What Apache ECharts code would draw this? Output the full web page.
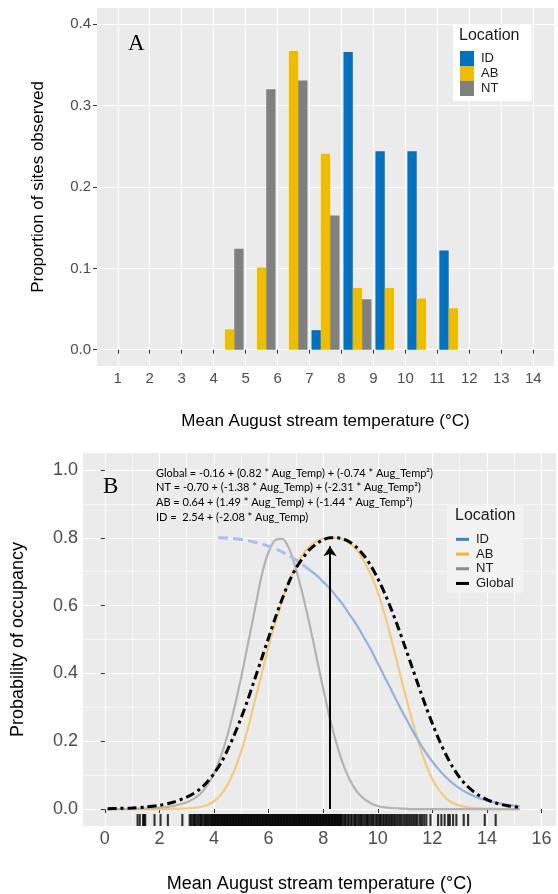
<!DOCTYPE html>
<html><head><meta charset="utf-8">
<script src="https://cdn.jsdelivr.net/npm/echarts@6/dist/echarts.min.js"></script>
<style>html,body{margin:0;padding:0;background:#fff}#c{width:558px;height:894px}</style>
</head><body><div id="c"></div>
<script>
// ---------- Panel A data ----------
const binCenters = [4.5, 5.5, 6.5, 7.5, 8.5, 9.5, 10.5, 11.5];
const idProp = [null, null, null, 0.024, 0.366, 0.244, 0.244, 0.122];
const abProp = [0.025, 0.101, 0.367, 0.241, 0.076, 0.076, 0.063, 0.051];
const ntProp = [0.124, 0.320, 0.331, 0.165, 0.062, null, null, null];
const aXTicks = [1,2,3,4,5,6,7,8,9,10,11,12,13,14];
const aYTicks = [0, 0.1, 0.2, 0.3, 0.4];

// ---------- Panel B data ----------
const bTemp = [0.1,0.5,1,1.5,2,2.5,3,3.25,3.5,3.75,4,4.25,4.5,4.75,5,5.25,5.5,5.75,6,6.25,6.5,6.75,7,7.25,7.5,7.75,8,8.25,8.5,8.75,9,9.25,9.5,9.75,10,10.25,10.5,10.75,11,11.25,11.5,11.75,12,12.25,12.5,12.75,13,13.25,13.5,13.75,14,14.25,14.5,14.75,15,15.2];
const globalProb = [0.001,0.002,0.003,0.006,0.011,0.020,0.035,0.046,0.060,0.080,0.105,0.135,0.175,0.220,0.270,0.325,0.385,0.445,0.505,0.565,0.620,0.670,0.710,0.740,0.765,0.782,0.794,0.800,0.800,0.796,0.786,0.770,0.747,0.717,0.680,0.637,0.588,0.535,0.478,0.420,0.362,0.305,0.252,0.203,0.160,0.123,0.093,0.070,0.052,0.038,0.028,0.020,0.014,0.010,0.007,0.005];
const abProb = [0,0,0,0,0,0.001,0.002,0.003,0.006,0.012,0.023,0.042,0.072,0.115,0.170,0.240,0.320,0.400,0.480,0.550,0.615,0.670,0.715,0.750,0.775,0.790,0.798,0.800,0.800,0.795,0.782,0.762,0.730,0.690,0.640,0.575,0.500,0.420,0.340,0.265,0.195,0.135,0.088,0.055,0.032,0.018,0.010,0.006,0.003,0.002,0.001,0.001,0,0,0,0];
const ntProb = [0,0,0.001,0.002,0.004,0.009,0.020,0.030,0.045,0.070,0.105,0.155,0.220,0.300,0.390,0.490,0.590,0.690,0.758,0.794,0.797,0.768,0.708,0.632,0.545,0.450,0.355,0.265,0.190,0.128,0.082,0.050,0.030,0.017,0.009,0.005,0.003,0.002,0.001,0,0,0,0,0,0,0,0,0,0,0,0,0,0,0,0,0];
const idDashTemp = [4.15, 4.5, 5, 5.5, 6, 6.5, 7, 7.5];
const idDashProb = [0.800, 0.799, 0.795, 0.787, 0.775, 0.758, 0.735, 0.705];
const idSolidTemp = [7.5,7.75,8,8.25,8.5,8.75,9,9.25,9.5,9.75,10,10.25,10.5,10.75,11,11.25,11.5,11.75,12,12.25,12.5,12.75,13,13.25,13.5,13.75,14,14.25,14.5,14.75,15,15.2];
const idSolidProb = [0.705,0.690,0.670,0.650,0.625,0.600,0.570,0.540,0.505,0.470,0.430,0.390,0.350,0.310,0.272,0.235,0.200,0.168,0.140,0.115,0.094,0.076,0.061,0.049,0.039,0.031,0.025,0.020,0.016,0.012,0.010,0.008];
const rugTemp = [1.20,1.28,1.40,1.44,1.48,1.82,2.04,2.31,2.84,
3.11,3.16,3.22,3.27,3.31,3.36,3.42,3.47,3.52,3.55,3.61,3.66,3.70,3.74,3.79,3.83,3.88,3.92,3.95,3.99,
4.03,4.06,4.10,4.14,4.17,4.21,4.25,4.28,4.32,4.36,4.39,4.43,4.47,4.50,4.54,4.58,4.61,4.65,4.69,4.72,4.76,4.80,4.83,4.87,4.91,4.94,4.98,
5.02,5.05,5.09,5.13,5.16,5.20,5.24,5.27,5.31,5.35,5.38,5.42,5.46,5.49,5.53,5.57,5.60,5.64,5.68,5.71,5.75,5.79,5.82,5.86,5.90,5.93,5.97,
6.01,6.04,6.08,6.12,6.15,6.19,6.23,6.26,6.30,6.34,6.37,6.41,6.45,6.48,6.52,6.56,6.59,6.63,6.67,6.70,6.74,6.78,6.81,6.85,6.89,6.92,6.96,
7.00,7.03,7.07,7.11,7.14,7.18,7.22,7.25,7.29,7.33,7.36,7.40,7.44,7.47,7.51,7.55,7.58,7.62,7.66,7.69,7.73,7.77,7.80,7.84,7.88,7.91,7.95,7.99,
8.02,8.06,8.10,8.13,8.17,8.21,8.24,8.28,8.32,8.35,8.39,8.43,8.46,8.50,8.54,8.57,8.61,8.65,8.68,
8.74,8.79,8.83,8.90,8.94,9.01,9.05,9.12,9.17,9.21,9.28,9.33,9.38,9.42,9.49,9.55,9.60,9.64,9.70,9.76,9.81,9.85,9.92,9.97,
10.03,10.08,10.12,10.19,10.24,10.30,10.35,10.41,10.47,10.52,10.58,10.63,10.70,10.76,10.82,10.88,10.95,11.01,11.07,11.14,11.20,11.26,11.33,11.40,11.46,11.55,11.62,11.70,11.78,
11.93,12.21,12.33,12.45,12.58,12.64,12.76,12.88,13.15,13.31,13.92,14.32];
const arrowTemp = 8.25;
const arrowTop = 0.775;
const bXTicks = [0,2,4,6,8,10,12,14,16];
const bXMinor = [1,3,5,7,9,11,13,15];
const bYTicks = [0, 0.2, 0.4, 0.6, 0.8, 1.0];
const bYMinor = [0.1, 0.3, 0.5, 0.7, 0.9];
const equations = [
  'Global = -0.16 + (0.82 * Aug_Temp) + (-0.74 * Aug_Temp\u00B2)',
  'NT = -0.70 + (-1.38 * Aug_Temp) + (-2.31 * Aug_Temp\u00B2)',
  'AB = 0.64 + (1.49 * Aug_Temp) + (-1.44 * Aug_Temp\u00B2)',
  'ID =  2.54 + (-2.08 * Aug_Temp)'
];
const xTitle = 'Mean August stream temperature (\u00B0C)';

// ---------- chart ----------
const FONT = '"Liberation Sans", Arial, sans-serif';
const C = {ID: '#0070c0', AB: '#efbd00', NT: '#808080'};
const chart = echarts.init(document.getElementById('c'), null, {renderer: 'canvas'});

function majorSplit(){ return {show: true, lineStyle: {color: '#ffffff', width: 1.1}}; }
function minorAxis(grid, min, max, vals){
  return {gridIndex: grid, type: 'value', min: min, max: max, show: true,
    axisLine: {show: false}, axisLabel: {show: false},
    axisTick: {show: false, customValues: vals},
    splitLine: {show: true, lineStyle: {color: '#ffffff', width: 0.6}}};
}

const option = {
  animation: false,
  backgroundColor: '#ffffff',
  textStyle: {fontFamily: FONT},
  grid: [
    {left: 97, top: 8, width: 457, height: 358, show: true, backgroundColor: '#ebebeb', borderWidth: 0},
    {left: 83, top: 453, width: 473, height: 374, show: true, backgroundColor: '#ebebeb', borderWidth: 0}
  ],
  xAxis: [
    {gridIndex: 0, type: 'value', min: 0.35, max: 14.65,
      axisLine: {show: false},
      axisTick: {show: true, length: 4, lineStyle: {color: '#333333'}, customValues: aXTicks},
      axisLabel: {customValues: aXTicks, color: '#4d4d4d', fontSize: 15, margin: 5},
      splitLine: majorSplit(),
      name: xTitle, nameLocation: 'middle', nameGap: 47,
      nameTextStyle: {fontSize: 17, color: '#000000'}},
    {gridIndex: 1, type: 'value', min: -0.8, max: 16.53,
      axisLine: {show: false},
      axisTick: {show: true, length: 4, lineStyle: {color: '#333333'}, customValues: bXTicks},
      axisLabel: {customValues: bXTicks, color: '#4d4d4d', fontSize: 18, margin: 4},
      splitLine: majorSplit(),
      name: xTitle, nameLocation: 'middle', nameGap: 49,
      nameTextStyle: {fontSize: 18, color: '#000000'}},
    minorAxis(1, -0.8, 16.53, bXMinor)
  ],
  yAxis: [
    {gridIndex: 0, type: 'value', min: -0.02, max: 0.42,
      axisLine: {show: false},
      axisTick: {show: true, length: 4, lineStyle: {color: '#333333'}, customValues: aYTicks},
      axisLabel: {customValues: aYTicks, formatter: v => Number(v).toFixed(1), color: '#4d4d4d', fontSize: 15, margin: 6},
      splitLine: majorSplit(),
      name: 'Proportion of sites observed', nameLocation: 'middle', nameGap: 50,
      nameTextStyle: {fontSize: 17, color: '#000000'}},
    {gridIndex: 1, type: 'value', min: -0.05, max: 1.05,
      axisLine: {show: false},
      axisTick: {show: true, length: 4, lineStyle: {color: '#333333'}, customValues: bYTicks},
      axisLabel: {customValues: bYTicks, formatter: v => Number(v).toFixed(1), color: '#4d4d4d', fontSize: 18, margin: 5},
      splitLine: majorSplit(),
      name: 'Probability of occupancy', nameLocation: 'middle', nameGap: 56,
      nameTextStyle: {fontSize: 18, color: '#000000'}},
    minorAxis(1, -0.05, 1.05, bYMinor)
  ],
  legend: [
    {data: [
        {name: 'ID', icon: 'rect', itemStyle: {color: C.ID}},
        {name: 'AB', icon: 'rect', itemStyle: {color: C.AB}},
        {name: 'NT', icon: 'rect', itemStyle: {color: C.NT}}],
      orient: 'vertical', left: 453, top: 24, padding: [27, 33, 5, 7],
      itemWidth: 14, itemHeight: 15, itemGap: 0, backgroundColor: '#ffffff',
      selectedMode: false, textStyle: {fontSize: 13, color: '#1a1a1a', padding: [0, 0, 0, 2]}, z: 5},
    {data: [
        {name: 'ID', icon: 'rect', itemStyle: {color: '#3f7fc6'}},
        {name: 'AB', icon: 'rect', itemStyle: {color: '#f0b43c'}},
        {name: 'NT', icon: 'rect', itemStyle: {color: '#8c8c8c'}},
        {name: 'Global', icon: 'rect', itemStyle: {color: '#000000'}, lineStyle: {color: '#000000', width: 3, type: 'solid'}}],
      orient: 'vertical', left: 447, top: 504, padding: [28, 10, 2, 9],
      itemWidth: 13, itemHeight: 3, itemGap: 0, backgroundColor: '#f2f2f2',
      selectedMode: false, textStyle: {fontSize: 13, color: '#1a1a1a', lineHeight: 14.7, padding: [0, 0, 0, 2]}, z: 5}
  ],
  graphic: [
    {type: 'text', left: 128, top: 32, z: 10, style: {text: 'A', font: '23px "Liberation Serif", "Times New Roman", serif', fill: '#000'}},
    {type: 'text', left: 103, top: 475, z: 10, style: {text: 'B', font: '23px "Liberation Serif", "Times New Roman", serif', fill: '#000'}},
    {type: 'text', left: 459, top: 28, z: 10, style: {text: 'Location', font: '16px ' + FONT, fill: '#1a1a1a'}},
    {type: 'text', left: 455, top: 508, z: 10, style: {text: 'Location', font: '16px ' + FONT, fill: '#1a1a1a'}},
    {type: 'text', left: 156, top: 466, z: 10, style: {text: equations.join('\n'), font: '11px Lato, "Open Sans", sans-serif', lineHeight: 14.6, fill: '#000'}}
  ],
  series: [
    {type: 'bar', name: 'ID', xAxisIndex: 0, yAxisIndex: 0, barWidth: 9.3, barGap: '0%',
      data: binCenters.map((c, i) => [c, idProp[i]]), itemStyle: {color: C.ID}},
    {type: 'bar', name: 'AB', xAxisIndex: 0, yAxisIndex: 0, barWidth: 9.3, barGap: '0%',
      data: binCenters.map((c, i) => [c, abProp[i]]), itemStyle: {color: C.AB}},
    {type: 'bar', name: 'NT', xAxisIndex: 0, yAxisIndex: 0, barWidth: 9.3, barGap: '0%',
      data: binCenters.map((c, i) => [c, ntProp[i]]), itemStyle: {color: C.NT}},

    {type: 'line', name: 'AB', xAxisIndex: 1, yAxisIndex: 1, showSymbol: false, smooth: 0.3, z: 3,
      data: bTemp.map((t, i) => [t, abProb[i]]), lineStyle: {color: '#f5c97e', width: 2.2}},
    {type: 'line', name: 'NT', xAxisIndex: 1, yAxisIndex: 1, showSymbol: false, smooth: 0.3, z: 3,
      data: bTemp.map((t, i) => [t, ntProb[i]]), lineStyle: {color: '#b3b3b3', width: 2.2}},
    {type: 'line', name: 'ID', xAxisIndex: 1, yAxisIndex: 1, showSymbol: false, smooth: 0.3, z: 4,
      data: idDashTemp.map((t, i) => [t, idDashProb[i]]), lineStyle: {color: '#a9bff2', width: 3, type: [10, 5]}},
    {type: 'line', name: 'ID', xAxisIndex: 1, yAxisIndex: 1, showSymbol: false, smooth: 0.3, z: 4,
      data: idSolidTemp.map((t, i) => [t, idSolidProb[i]]), lineStyle: {color: '#8db4e2', width: 2.2}},
    {type: 'line', name: 'Global', xAxisIndex: 1, yAxisIndex: 1, showSymbol: false, smooth: 0.3, z: 5,
      data: bTemp.map((t, i) => [t, globalProb[i]]), lineStyle: {color: '#000000', width: 3, type: [9, 4, 3, 4]},
      markLine: {silent: true, animation: false, symbol: ['none', 'arrow'], symbolSize: 10,
        label: {show: false}, lineStyle: {color: '#000000', width: 2, type: 'solid'},
        data: [[{coord: [arrowTemp, 0]}, {coord: [arrowTemp, arrowTop]}]]}},
    {type: 'scatter', name: 'rug', xAxisIndex: 1, yAxisIndex: 1, symbol: 'rect', symbolSize: [2.1, 12],
      data: rugTemp.map(t => [t, -0.0324]), itemStyle: {color: '#000000'}, silent: true, z: 3}
  ]
};
chart.setOption(option);
</script>
</body></html>
